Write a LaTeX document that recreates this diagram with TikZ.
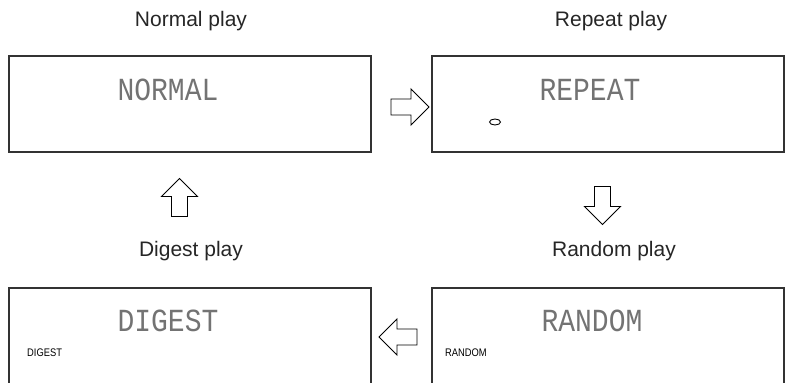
\documentclass[tikz,border=0pt]{standalone}
\usepackage{fontspec}
\setmainfont{Liberation Sans}
\setmonofont{Liberation Mono}
\usetikzlibrary{shapes.arrows,positioning}

\tikzset{
  panel/.style={draw=black!80,line width=1.2pt,minimum height=96pt,inner sep=0pt},
  caption/.style={font=\fontsize{21}{25}\selectfont,text=black!85},
  lcd/.style={font=\ttfamily\fontsize{28}{30}\selectfont,text=black!55,yscale=1.15,inner sep=0pt},
  tag/.style={font=\fontsize{11}{12}\selectfont,xscale=0.85,inner sep=0pt,anchor=west},
  blockarrow/.style={single arrow,draw=black,line width=0.9pt,minimum height=38pt,minimum width=36pt,
    single arrow head extend=10pt,inner xsep=0pt,inner ysep=7.5pt}
}

\begin{document}
\begin{tikzpicture}[x=1pt,y=-1pt]
\useasboundingbox (0,0) rectangle (785,383);
\clip (0,0) rectangle (785,383);
% display panels
\node[panel,minimum width=362pt] (normal) at (190,104) {};
\node[panel,minimum width=352pt] (repeat) at (608,104) {};
\node[panel,minimum width=362pt] (digest) at (190,336) {};
\node[panel,minimum width=352pt] (random) at (608,336) {};
% captions
\node[caption] (capN) at (191,21) {Normal play};
\node[caption] (capR) at (611,21) {Repeat play};
\node[caption] (capD) at (191,251) {Digest play};
\node[caption] (capX) at (614,251) {Random play};
% display contents
\node[lcd] (lcdN) at (168,90) {NORMAL};
\node[lcd] (lcdR) at (590,90) {REPEAT};
\node[lcd] (lcdD) at (168,321) {DIGEST};
\node[lcd] (lcdX) at (592,321) {RANDOM};
\draw[line width=0.9pt] (495,122) ellipse[x radius=5.5pt,y radius=3pt];
\node[tag] (tagD) at (27,353) {DIGEST};
\node[tag] (tagX) at (445,353) {RANDOM};
% cycle arrows
\node[blockarrow] (toR) at (406,107) {};
\node[blockarrow,rotate=-90] (toX) at (602.5,201.5) {};
\node[blockarrow,rotate=180] (toD) at (402,337) {};
\node[blockarrow,rotate=90] (toN) at (179.5,201.5) {};
\end{tikzpicture}
\end{document}
